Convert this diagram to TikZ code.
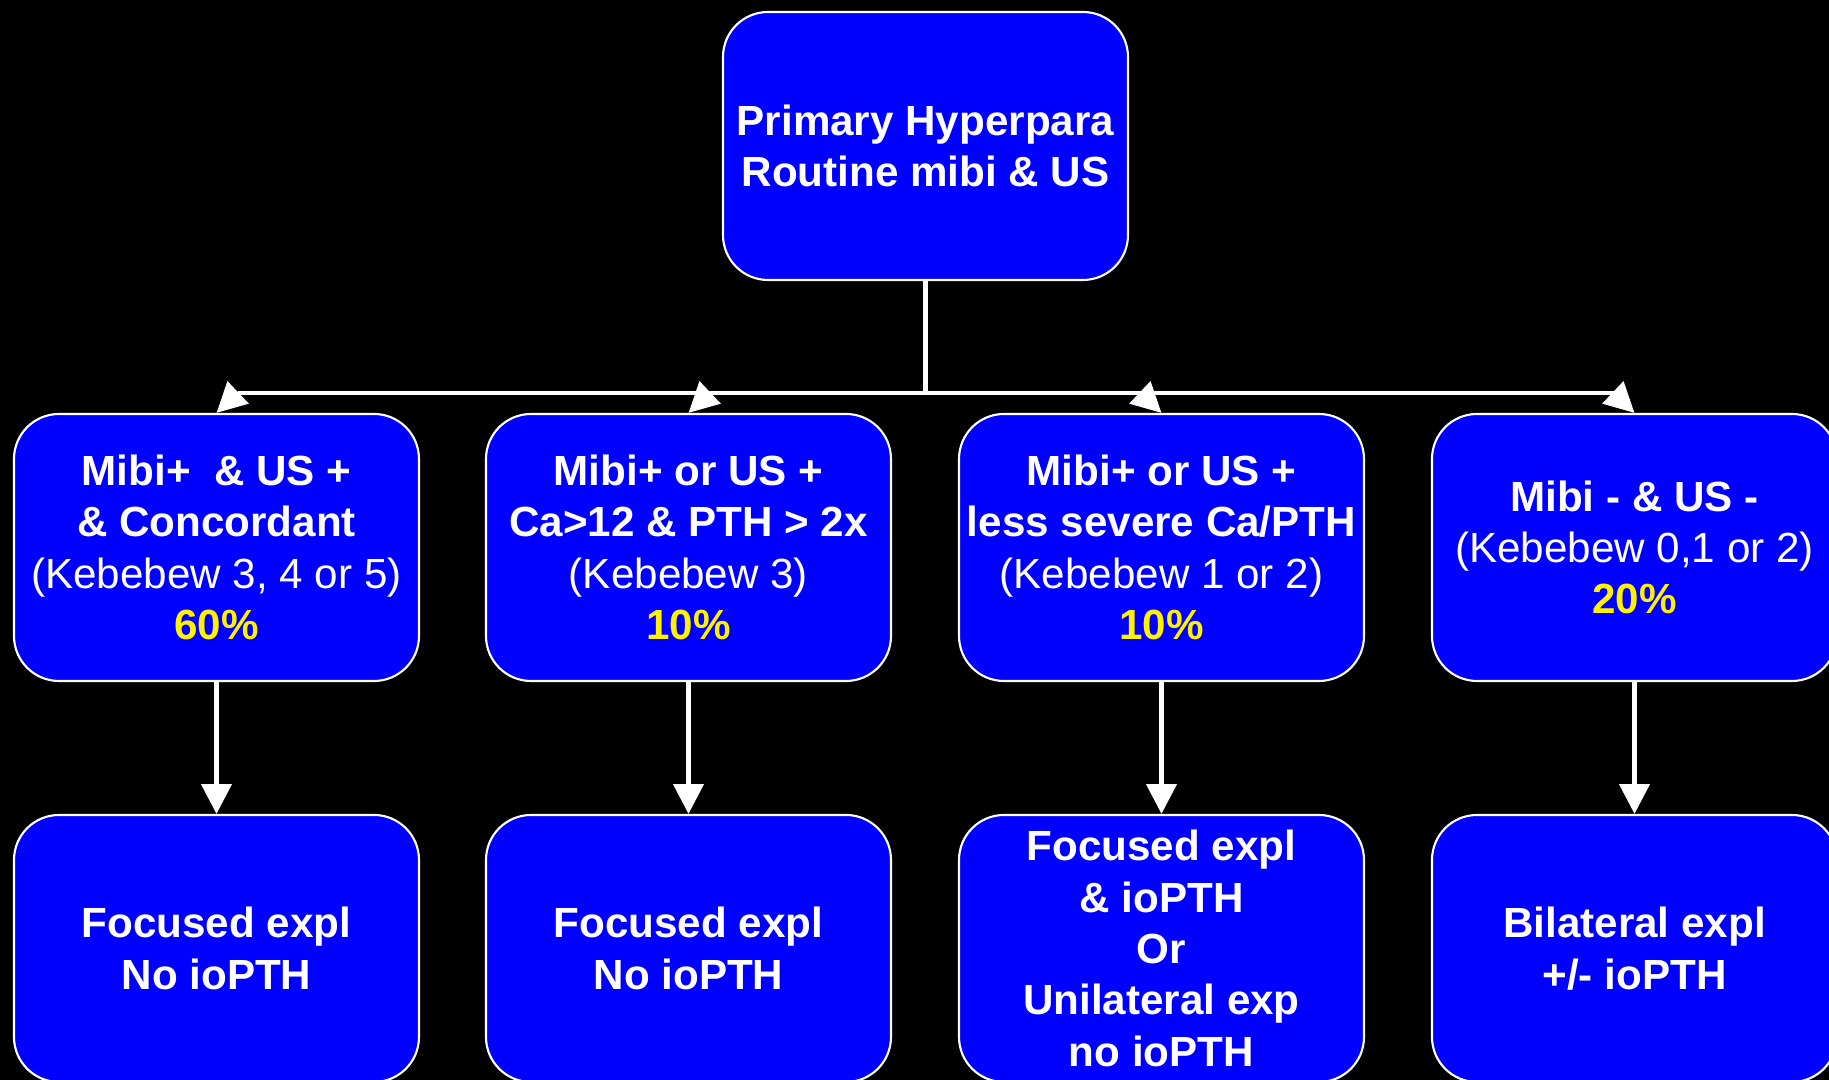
\documentclass[tikz,border=0pt]{standalone}
\usepackage{fontspec}
\setmainfont{Liberation Sans}
\usetikzlibrary{positioning}
\usetikzlibrary{arrows.meta}
\tikzset{
    mybox/.style = {rectangle, rounded corners=0.45cm, draw=white, line width=0.6pt, fill=blue,
                    minimum width=4.05cm, minimum height=2.67cm, inner sep=2pt, align=center,
                    text=white, font=\fontsize{12}{14.6}\selectfont\bfseries},
    edgew/.style = {-{Triangle[width=8.5pt,length=8.5pt]}, line width=1.3pt, white},
    linew/.style = {line width=1.3pt, white}
}

\begin{document}
\begin{tikzpicture}
\useasboundingbox (0,0) rectangle (18.29,10.80);
\fill[black] (0,0) rectangle (18.29,10.80);

\node[mybox, minimum height=2.68cm] at ( 9.255, 9.340) (top) {Primary Hyperpara\\Routine mibi \& US};

\node[mybox] at ( 2.165, 5.325) (m1) {Mibi+ \ \& US +\\\& Concordant\\\mdseries(Kebebew 3, 4 or 5)\\\textcolor{yellow}{60\%}};
\node[mybox] at ( 6.885, 5.325) (m2) {Mibi+ or US +\\Ca>12 \& PTH > 2x\\\mdseries(Kebebew 3)\\\textcolor{yellow}{10\%}};
\node[mybox] at (11.615, 5.325) (m3) {Mibi+ or US +\\less severe Ca/PTH\\\mdseries(Kebebew 1 or 2)\\\textcolor{yellow}{10\%}};
\node[mybox] at (16.345, 5.325) (m4) {Mibi - \& US -\\\mdseries(Kebebew 0,1 or 2)\\\textcolor{yellow}{20\%}};

\node[mybox] at ( 2.165, 1.315) (s1) {Focused expl\\No ioPTH};
\node[mybox] at ( 6.885, 1.315) (s2) {Focused expl\\No ioPTH};
\node[mybox] at (11.615, 1.315) (s3) {Focused expl\\\& ioPTH\\Or\\Unilateral exp\\no ioPTH};
\node[mybox] at (16.345, 1.315) (s4) {Bilateral expl\\+/- ioPTH};

% bus line and the short slanted drops
\coordinate (bus) at ( 9.255, 6.87);
\coordinate (b1) at ( 2.375, 6.87);
\coordinate (b2) at ( 7.095, 6.87);
\coordinate (b3) at (11.405, 6.87);
\coordinate (b4) at (16.135, 6.87);
\draw[linew] (top.south) -- (bus);
\draw[linew] (b1) -- (b4);
\draw[edgew] (b1) -- (m1.north);
\draw[edgew] (b2) -- (m2.north);
\draw[edgew] (b3) -- (m3.north);
\draw[edgew] (b4) -- (m4.north);

\draw[edgew] (m1) -- (s1);
\draw[edgew] (m2) -- (s2);
\draw[edgew] (m3) -- (s3);
\draw[edgew] (m4) -- (s4);

\end{tikzpicture}
\end{document}
